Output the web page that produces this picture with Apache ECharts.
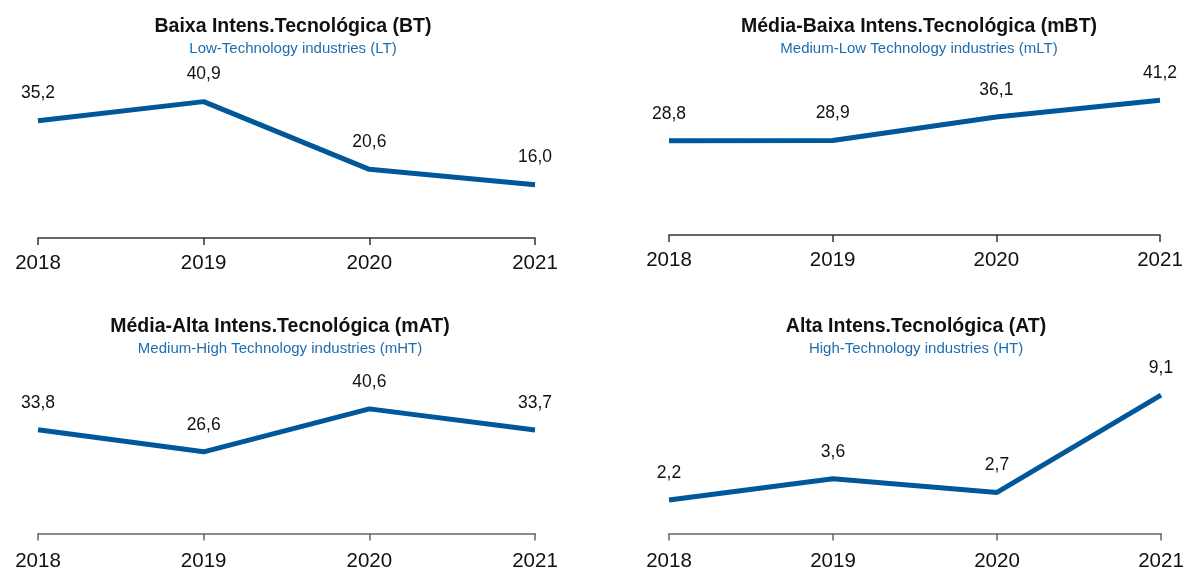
<!DOCTYPE html>
<html>
<head>
<meta charset="utf-8">
<script src="https://cdn.jsdelivr.net/npm/echarts@6/dist/echarts.min.js"></script>
<style>
html,body{margin:0;padding:0;background:#fff;}
#c{width:1185px;height:568px;}
</style>
</head>
<body>
<div id="c"></div>
<script>
const years = ['2018', '2019', '2020', '2021'];
const titles = ['Baixa Intens.Tecnológica (BT)', 'Média-Baixa Intens.Tecnológica (mBT)', 'Média-Alta Intens.Tecnológica (mAT)', 'Alta Intens.Tecnológica (AT)'];
const subtitles = ['Low-Technology industries (LT)', 'Medium-Low Technology industries (mLT)', 'Medium-High Technology industries (mHT)', 'High-Technology industries (HT)'];
const lowTech = [35.2, 40.9, 20.6, 16.0];
const mediumLowTech = [28.8, 28.9, 36.1, 41.2];
const mediumHighTech = [33.8, 26.6, 40.6, 33.7];
const highTech = [2.2, 3.6, 2.7, 9.1];
const seriesData = [lowTech, mediumLowTech, mediumHighTech, highTech];
const yMax = [50, 50, 50, 10];

const layout = [
  {left: 38, width: 497, top: 71.3, height: 166.7, tx: 288, ty: 12, axisColor: '#333', margin: 15},
  {left: 669, width: 491, top: 71.5, height: 163.5, tx: 914, ty: 12, axisColor: '#333', margin: 15},
  {left: 38, width: 497, top: 380, height: 153.5, tx: 275, ty: 312, axisColor: '#666', margin: 17},
  {left: 669, width: 492, top: 381.5, height: 152, tx: 911, ty: 312, axisColor: '#666', margin: 17}
];

const sans = '"Liberation Sans", Arial, sans-serif';
const lineColor = '#00579a';

const option = {
  backgroundColor: '#fff',
  animation: false,
  title: layout.map((l, i) => ({
    text: titles[i],
    subtext: subtitles[i],
    left: l.tx, top: l.ty, textAlign: 'center',
    itemGap: 4,
    textStyle: {fontFamily: sans, fontWeight: 'bold', fontSize: 19.5, color: '#111'},
    subtextStyle: {fontFamily: sans, fontSize: 15, color: '#1f6db0'}
  })),
  grid: layout.map(l => ({left: l.left, width: l.width, top: l.top, height: l.height, containLabel: false, outerBoundsMode: 'none'})),
  xAxis: layout.map((l, i) => ({
    type: 'category', gridIndex: i, data: years, boundaryGap: false,
    axisLine: {show: true, lineStyle: {color: l.axisColor, width: 1.5}},
    axisTick: {show: true, alignWithLabel: true, length: 7, lineStyle: {color: l.axisColor, width: 1.5}},
    axisLabel: {fontFamily: sans, fontSize: 20.5, color: '#111', margin: l.margin, showMinLabel: true, showMaxLabel: true, interval: 0}
  })),
  yAxis: layout.map((l, i) => ({
    type: 'value', gridIndex: i, min: 0, max: yMax[i],
    show: false, splitLine: {show: false}
  })),
  series: seriesData.map((d, i) => ({
    type: 'line', xAxisIndex: i, yAxisIndex: i, data: d,
    symbol: 'circle', symbolSize: 0, showSymbol: true,
    lineStyle: {color: lineColor, width: 5},
    itemStyle: {color: lineColor},
    label: {show: true, position: 'top', distance: 18, fontFamily: sans, fontSize: 17.5, color: '#111',
      formatter: p => p.value.toFixed(1).replace('.', ',')}
  }))
};

const chart = echarts.init(document.getElementById('c'), null, {renderer: 'canvas'});
chart.setOption(option);
</script>
</body>
</html>
